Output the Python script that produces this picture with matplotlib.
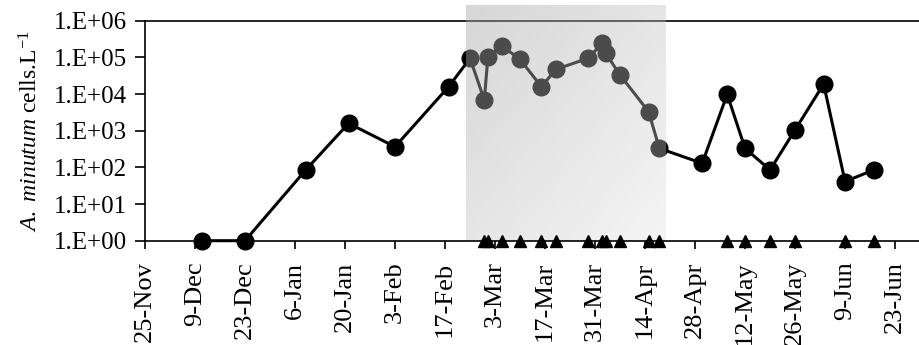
import numpy as np
import matplotlib.pyplot as plt
import matplotlib.dates as mdates
from matplotlib.ticker import NullLocator
from matplotlib.transforms import blended_transform_factory

plt.rcParams['font.family'] = ['Liberation Serif', 'DejaVu Serif']
plt.rcParams['mathtext.fontset'] = 'custom'
plt.rcParams['mathtext.rm'] = 'Liberation Serif'
plt.rcParams['mathtext.it'] = 'Liberation Serif:italic'

# sampling dates and A. minutum counts (cells per litre)
dates = ['2009-12-11', '2009-12-23', '2010-01-09', '2010-01-21', '2010-02-03',
         '2010-02-18', '2010-02-24', '2010-02-28', '2010-03-01', '2010-03-05',
         '2010-03-10', '2010-03-16', '2010-03-20', '2010-03-29', '2010-04-02',
         '2010-04-03', '2010-04-07', '2010-04-15', '2010-04-18', '2010-04-30',
         '2010-05-07', '2010-05-12', '2010-05-19', '2010-05-26', '2010-06-03',
         '2010-06-09', '2010-06-17']
cells = [1, 1, 85, 1590, 365,
         15800, 94000, 6900, 104000, 204000,
         88000, 15800, 47000, 94000, 240000,
         129000, 33000, 3300, 330, 129,
         9800, 330, 85, 1050, 18700,
         41, 85]

# dates marked with a triangle on the x axis
tri_dates = ['2010-02-28', '2010-03-01', '2010-03-05', '2010-03-10', '2010-03-16',
             '2010-03-20', '2010-03-29', '2010-04-02', '2010-04-03', '2010-04-07',
             '2010-04-15', '2010-04-18', '2010-05-07', '2010-05-12', '2010-05-19',
             '2010-05-26', '2010-06-09', '2010-06-17']

tick_dates = ['2009-11-25', '2009-12-09', '2009-12-23', '2010-01-06', '2010-01-20',
              '2010-02-03', '2010-02-17', '2010-03-03', '2010-03-17', '2010-03-31',
              '2010-04-14', '2010-04-28', '2010-05-12', '2010-05-26', '2010-06-09',
              '2010-06-23']
tick_labels = ['25-Nov', '9-Dec', '23-Dec', '6-Jan', '20-Jan', '3-Feb', '17-Feb',
               '3-Mar', '17-Mar', '31-Mar', '14-Apr', '28-Apr', '12-May', '26-May',
               '9-Jun', '23-Jun']

y_ticks = [1, 10, 100, 1000, 10000, 100000, 1000000]
y_labels = ['1.E+00', '1.E+01', '1.E+02', '1.E+03', '1.E+04', '1.E+05', '1.E+06']

shade_start = '2010-02-23'
shade_end = '2010-04-20'

def dn(lst):
    return mdates.date2num(np.array(lst, dtype='datetime64[D]'))

x = dn(dates)
xt = dn(tri_dates)

fig = plt.figure(figsize=(9.19, 3.45), dpi=100)
ax = fig.add_axes([145/919, 1-240.7/345, (919-145)/919, 220/345])

ax.plot(x, cells, '-o', color='black', lw=2.2, ms=12, zorder=3, clip_on=False)
ax.plot(xt, np.ones(len(xt)), '^', color='black', ms=8, zorder=6, clip_on=False)

ax.set_yscale('log')
ax.set_yticks(y_ticks)
ax.set_yticklabels(y_labels)
ax.yaxis.set_minor_locator(NullLocator())

x0 = dn(['2009-11-25'])[0]
ax.set_xticks(dn(tick_dates))
ax.set_xticklabels(tick_labels, rotation=90)

# shaded period, drawn as a semi-transparent gradient over the curve
nx, ny = 200, 200
u = np.linspace(0, 1, nx)[None, :]
v = np.linspace(0, 1, ny)[:, None]
t = (u + v) / 2
w = 0.84 + 0.12 * t
b = 0.30
a = 1 - w + b
g = b / a
rgba = np.zeros((ny, nx, 4))
rgba[..., 0] = g
rgba[..., 1] = g
rgba[..., 2] = g
rgba[..., 3] = a
trans = blended_transform_factory(ax.transData, ax.transAxes)
sx = dn([shade_start, shade_end])
ax.imshow(rgba, extent=(sx[0], sx[1], 0, 1.077), transform=trans, aspect='auto',
          origin='upper', zorder=4, clip_on=False, interpolation='bilinear')
ax.set_xlim(x0, x0 + 216.7)
ax.set_ylim(1, 1e6)

for s in ['left', 'bottom', 'top']:
    ax.spines[s].set_linewidth(1.2)
ax.spines['right'].set_visible(False)
ax.spines['bottom'].set_zorder(7)
ax.tick_params(axis='y', direction='out', length=7, width=1.2, labelsize=18, pad=6)
ax.tick_params(axis='x', direction='out', length=6, width=1.2, labelsize=19, pad=9)

ax.set_ylabel(r'$\mathit{A.\ minutum}$ cells.L$^{-1}$', fontsize=17, labelpad=8)

fig.savefig('out.png', dpi=100)
